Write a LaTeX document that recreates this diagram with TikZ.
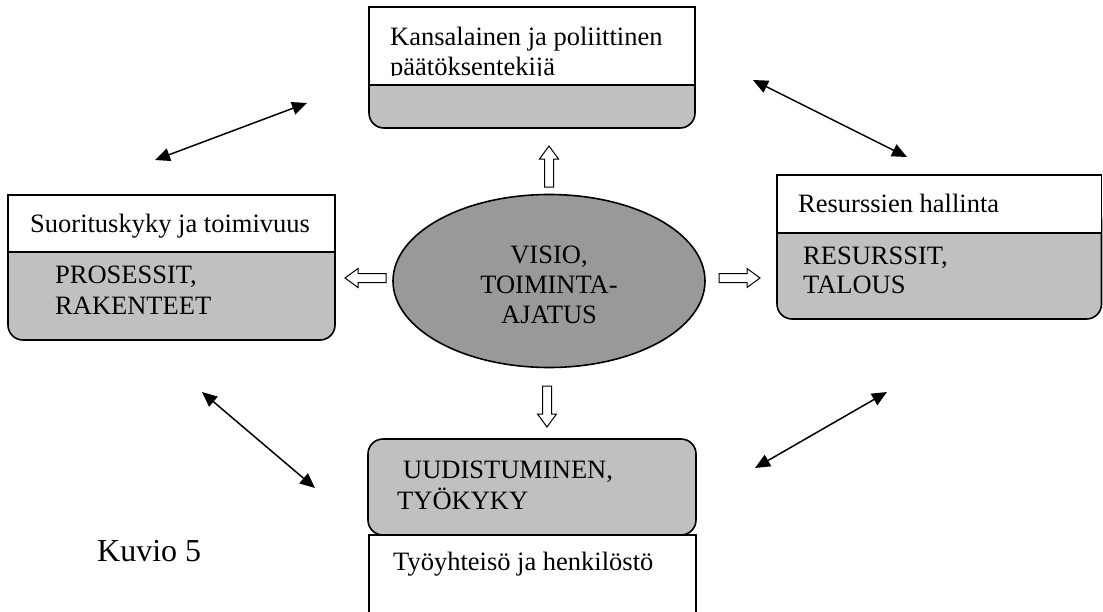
\documentclass[tikz,border=0pt]{standalone}
\usepackage{fontspec}
\setmainfont{Liberation Serif}
\usetikzlibrary{shapes.geometric,arrows.meta}
\definecolor{boxgrey}{HTML}{C0C0C0}
\definecolor{ovalgrey}{HTML}{999999}

\begin{document}
\begin{tikzpicture}[x=1pt,y=-1pt,
  outline/.style={draw=black,line width=1.6pt},
  greypart/.style={outline,fill=boxgrey,rounded corners=15pt},
  whitepart/.style={outline,fill=white},
  lbl/.style={anchor=base west,inner sep=0pt,font=\fontsize{26.5}{31}\selectfont},
  clbl/.style={anchor=base,inner sep=0pt,font=\fontsize{26.5}{31}\selectfont},
  blockarrow/.pic={
    \draw[draw=black,fill=white,line width=1pt]
      (0,-4.5) -- (28,-4.5) -- (28,-9.5) -- (41,0) -- (28,9.5) -- (28,4.5) -- (0,4.5) -- cycle;},
  link/.style={line width=1.5pt,
    {Triangle[length=15pt,width=13pt]}-{Triangle[length=15pt,width=13pt]}}
]
\useasboundingbox (0,0) rectangle (1103,611);

% top box: citizen and political decision maker
\draw[greypart] (369,60) rectangle (695,128);
\draw[whitepart] (369,7) rectangle (695,85);
\begin{scope}
  \clip (369,7) rectangle (695,75.5);
  \node[lbl] (kans1) at (390,45) {Kansalainen ja poliittinen};
  \node[lbl] (kans2) at (390,75) {päätöksentekijä};
\end{scope}

% left box: performance
\draw[greypart] (8,225) rectangle (335,340);
\draw[whitepart] (8,195) rectangle (335,252);
\node[lbl] (suor) at (30,232) {Suorituskyky ja toimivuus};
\node[lbl] (pros1) at (55,283) {PROSESSIT,};
\node[lbl] (pros2) at (55,314) {RAKENTEET};

% right box: resource management
\draw[greypart] (777,205) rectangle (1101.5,319);
\draw[whitepart] (777,175) rectangle (1101.5,233);
\node[lbl] (resh) at (798,212) {Resurssien hallinta};
\node[lbl] (res1) at (803,264) {RESURSSIT,};
\node[lbl] (res2) at (803,293) {TALOUS};

% bottom box: work community and staff
\draw[whitepart] (369,625) -- (369,535) -- (696,535) -- (696,625);
\draw[greypart] (368,439) rectangle (696,535);
\node[lbl] (uud1) at (403,478) {UUDISTUMINEN,};
\node[lbl] (uud2) at (397,509) {TYÖKYKY};
\node[lbl] (tyo) at (393,570) {Työyhteisö ja henkilöstö};

% centre: vision
\node[ellipse,outline,fill=ovalgrey,minimum width=312pt,minimum height=173pt,inner sep=0pt]
  (visio) at (549,281) {};
\node[clbl] (v1) at (549,263) {VISIO,};
\node[clbl] (v2) at (549,293) {TOIMINTA-};
\node[clbl] (v3) at (549,323) {AJATUS};

% hollow block arrows out of the centre
\pic[rotate=90]  (aup)    at (549,187) {blockarrow};
\pic[rotate=-90] (adown)  at (547,386) {blockarrow};
\pic[rotate=180] (aleft)  at (386,278) {blockarrow};
\pic             (aright) at (719,278) {blockarrow};

% two-way links between the boxes
\coordinate (tl1) at (155,160); \coordinate (tl2) at (307,103);
\coordinate (tr1) at (753,80);  \coordinate (tr2) at (907,157);
\coordinate (bl1) at (202,392); \coordinate (bl2) at (315,488);
\coordinate (br1) at (887,392); \coordinate (br2) at (755,468);
\draw[link] (tl1) -- (tl2);
\draw[link] (tr1) -- (tr2);
\draw[link] (bl1) -- (bl2);
\draw[link] (br1) -- (br2);

\node[anchor=base west,inner sep=0pt,font=\fontsize{32}{37}\selectfont] (kuvio) at (97,561) {Kuvio 5};
\end{tikzpicture}
\end{document}
